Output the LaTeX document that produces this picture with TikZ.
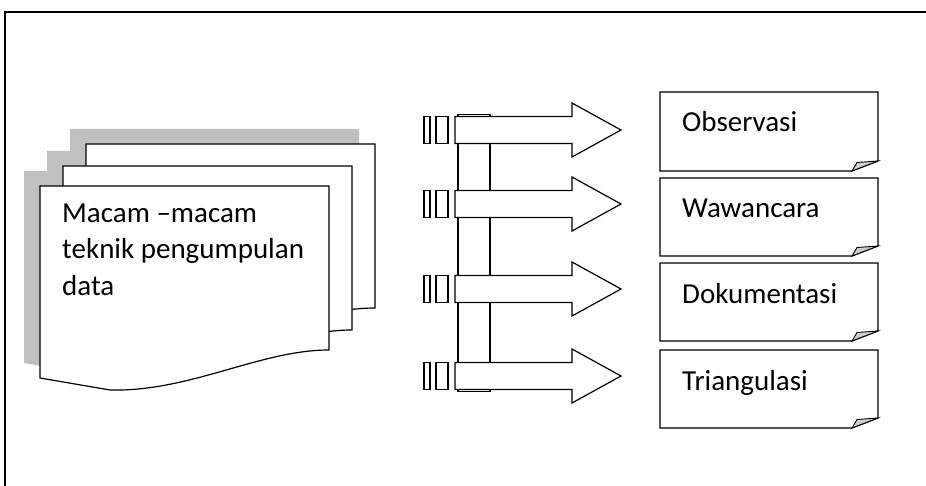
\documentclass[tikz,border=0pt]{standalone}
\usepackage{fontspec}
\setmainfont{Carlito}
\begin{document}
\begin{tikzpicture}[x=1pt,y=-1pt,line join=miter,
  ln/.style={line width=1.2pt,draw=black},
  docshape/.style={ln,fill=white},
  arrowbody/.style={ln,fill=white},
  notebox/.style={ln,fill=white},
  foldfill/.style={line width=0.9pt,draw=black,fill=foldgray},
  lbl/.style={font=\fontsize{29}{36}\selectfont,inner sep=0pt,anchor=base west}]
\definecolor{shadowgray}{HTML}{C0C0C0}
\definecolor{foldgray}{HTML}{CDCDCD}
\useasboundingbox (0,0) rectangle (926,486);
% frame (right and bottom edges lie outside the picture)
\draw[ln] (926,12) -- (5,12) -- (5,486);
% multi-document shape
\def\docpath#1#2{(40+#1,186+#2) -- (329+#1,186+#2) -- (329+#1,350+#2) .. controls (260+#1,350+#2) and (190+#1,392+#2) .. (110+#1,390+#2) -- (40+#1,378+#2) -- cycle}
\fill[shadowgray] \docpath{30}{-57};
\fill[shadowgray] \docpath{7}{-35};
\fill[shadowgray] \docpath{-16}{-15};
\draw[docshape] \docpath{46}{-42};
\draw[docshape] \docpath{23}{-20};
\draw[docshape] \docpath{0}{0};
\node[lbl] (src) at (62,223) {Macam –macam};
\node[lbl] (src2) at (62,259) {teknik pengumpulan};
\node[lbl] (src3) at (62,295) {data};
% vertical bar
\draw[ln,fill=white] (458,114.5) rectangle (490,391.5);
% striped arrows
\foreach \c/\n in {130/a1,204/a2,289/a3,376/a4}{
  \draw[ln] (424,\c-13.5) rectangle (430,\c+13.5);
  \draw[ln] (436,\c-13.5) rectangle (448,\c+13.5);
  \draw[arrowbody] (455,\c-13.5) -- (572,\c-13.5) -- (572,\c-27) -- (621,\c) -- (572,\c+27) -- (572,\c+13.5) -- (455,\c+13.5) -- cycle;
  \coordinate (\n) at (621,\c);
}
% note boxes
\foreach \t/\b/\n/\txt in {92/171/b1/Observasi,178/256/b2/Wawancara,263/341/b3/Dokumentasi,350/428/b4/Triangulasi}{
  \draw[notebox] (660,\t) -- (878,\t) -- (878,\b-10) -- (852,\b) -- (660,\b) -- cycle;
  \draw[foldfill] (852,\b) -- (857,\b-8.5) -- (878,\b-10) -- cycle;
  \node[lbl] (\n) at (682,\t+40) {\txt};
}
\end{tikzpicture}
\end{document}
